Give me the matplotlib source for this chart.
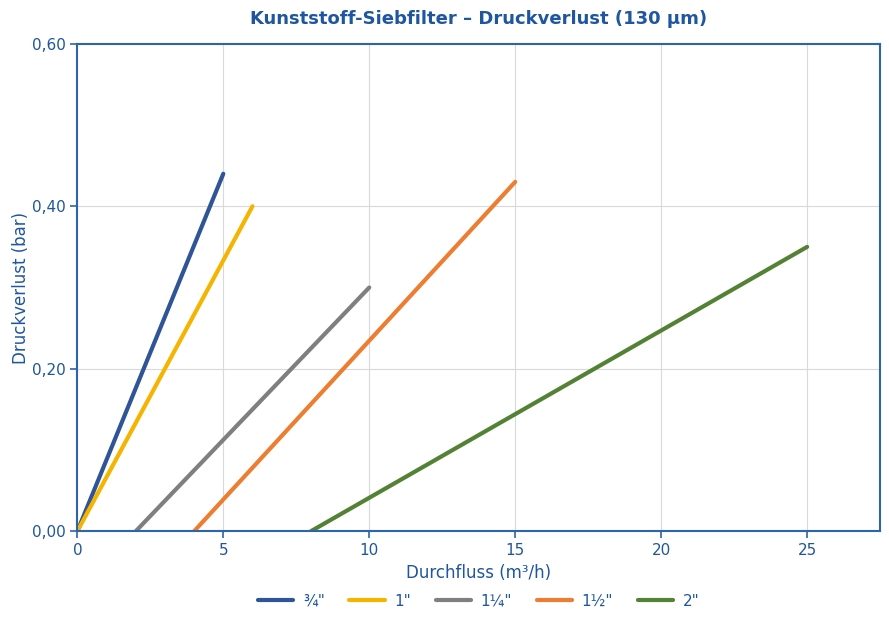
import matplotlib
matplotlib.use("Agg")
import matplotlib.pyplot as plt
from matplotlib.ticker import FuncFormatter

# Druckverlust-Kennlinien je Nennweite (Start- und Endpunkt)
sizes = ['¾"', '1"', '1¼"', '1½"', '2"']
flow_start = [0, 0, 2, 4, 8]
flow_end = [5, 6, 10, 15, 25]
dp_start = [0.0, 0.0, 0.0, 0.0, 0.0]
dp_end = [0.44, 0.40, 0.30, 0.43, 0.35]
colors = ['#2f5597', '#f4b400', '#7f7f7f', '#ed7d31', '#548235']

x_ticks = [0, 5, 10, 15, 20, 25]
y_ticks = [0.0, 0.2, 0.4, 0.6]

blue = '#1f56a0'
spine_blue = '#2e64ab'

fig, ax = plt.subplots(figsize=(8.89, 6.25), dpi=100)
fig.subplots_adjust(left=0.087, right=0.99, top=0.93, bottom=0.15)

for lab, x0, x1, y0, y1, c in zip(sizes, flow_start, flow_end, dp_start, dp_end, colors):
    ax.plot([x0, x1], [y0, y1], color=c, lw=3, solid_capstyle='round', label=lab)

ax.set_xlim(0, 27.5)
ax.set_ylim(0, 0.6)
ax.set_xticks(x_ticks)
ax.set_yticks(y_ticks)
ax.yaxis.set_major_formatter(FuncFormatter(lambda v, p: f'{v:.2f}'.replace('.', ',')))
ax.grid(True, color='#d9d9d9', lw=0.8)
ax.set_axisbelow(True)

for s in ax.spines.values():
    s.set_color(spine_blue)
    s.set_linewidth(1.5)
ax.tick_params(colors=blue, labelsize=11, length=5, width=1.2)
ax.tick_params(axis='both', color=spine_blue)

ax.set_title('Kunststoff-Siebfilter – Druckverlust (130 µm)', color=blue,
             fontsize=13, fontweight='bold', pad=14)
ax.set_xlabel('Durchfluss (m³/h)', color=blue, fontsize=12)
ax.set_ylabel('Druckverlust (bar)', color=blue, fontsize=12, labelpad=1)

leg = ax.legend(loc='upper center', bbox_to_anchor=(0.5, -0.1), ncol=5,
                frameon=False, prop={'size': 11},
                handlelength=2.3, handletextpad=0.65, columnspacing=1.6)
for t in leg.get_texts():
    t.set_color(blue)
for h in leg.legend_handles:
    h.set_solid_capstyle('round')

fig.savefig('out.png', dpi=100)
